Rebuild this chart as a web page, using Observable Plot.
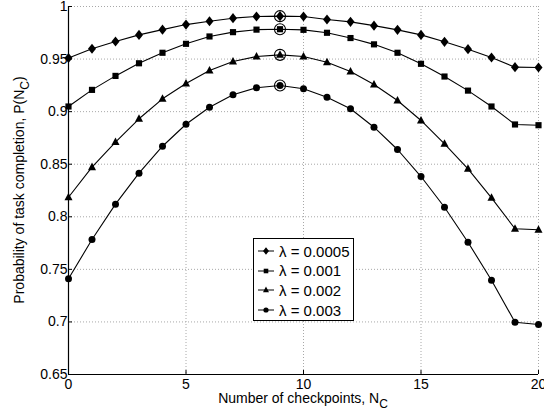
<!DOCTYPE html>
<html><head><meta charset="utf-8">
<script src="https://cdn.jsdelivr.net/npm/d3@7"></script>
<script src="https://cdn.jsdelivr.net/npm/@observablehq/plot@0.6"></script>
<style>
body{margin:0;background:#fff;}
#wrap{position:relative;width:544px;height:417px;font-family:"Liberation Sans",Arial,sans-serif;}
#legend{position:absolute;left:253px;top:238px;width:99px;height:81px;border:1px solid #000;background:#fff;}
.row{position:absolute;left:0;height:20px;display:flex;align-items:center;font-size:15px;color:#000;white-space:nowrap;}
.row svg{margin-left:3px;margin-right:4px;}
</style></head><body><div id="wrap"></div>
<script>
// Data
const checkpoints = [0,1,2,3,4,5,6,7,8,9,10,11,12,13,14,15,16,17,18,19,20];
const lambdaLabels = ["λ = 0.0005","λ = 0.001","λ = 0.002","λ = 0.003"];
const p0005 = [0.951,0.9598,0.9667,0.973,0.978,0.9828,0.986,0.9889,0.9905,0.9908,0.9905,0.9876,0.9854,0.9818,0.9778,0.973,0.9664,0.9594,0.9515,0.9423,0.942];
const p001  = [0.9049,0.9207,0.934,0.946,0.956,0.9645,0.9715,0.9756,0.978,0.9784,0.9778,0.975,0.970,0.964,0.956,0.9455,0.9334,0.920,0.9049,0.8878,0.8871];
const p002  = [0.8186,0.8472,0.871,0.8932,0.9122,0.9267,0.9391,0.9477,0.9524,0.954,0.9524,0.947,0.9382,0.9258,0.9106,0.8916,0.8694,0.8456,0.818,0.7886,0.7876];
const p003  = [0.741,0.7784,0.812,0.8415,0.8671,0.888,0.9042,0.916,0.9227,0.9249,0.9217,0.9137,0.9027,0.8852,0.864,0.8383,0.8091,0.7758,0.7397,0.6997,0.6976];
const optimalN = 9;
const xTicks = [0,5,10,15,20];
const yTicks = [0.65,0.7,0.75,0.8,0.85,0.9,0.95,1];

const seriesValues = [p0005,p001,p002,p003];

// custom marker shapes (scaled by radius)
function mk(fn){return {draw(ctx,size){fn(ctx,Math.sqrt(size/Math.PI));}};}
const diamond = mk((c,r)=>{const w=r*1.15,h=r*1.45;c.moveTo(0,-h);c.lineTo(w,0);c.lineTo(0,h);c.lineTo(-w,0);c.closePath();});
const square = mk((c,r)=>{const s=r*0.88;c.rect(-s,-s,2*s,2*s);});
const triangle = mk((c,r)=>{const w=r*1.15;c.moveTo(0,-r*1.3);c.lineTo(w,r*0.85);c.lineTo(-w,r*0.85);c.closePath();});
const circle = mk((c,r)=>{c.moveTo(r,0);c.arc(0,0,r,0,2*Math.PI);});
const symbols = [diamond,square,triangle,circle];

const W=544,H=417,ML=68,MR=6,MT=6,MB=43;

const marks = [
  Plot.gridX(xTicks,{stroke:"#a8a8a8",strokeOpacity:1,strokeDasharray:"1,2"}),
  Plot.gridY(yTicks,{stroke:"#a8a8a8",strokeOpacity:1,strokeDasharray:"1,2"}),
  Plot.ruleX([0],{stroke:"#000",strokeWidth:1.2}),
  Plot.ruleY([0.65],{stroke:"#000",strokeWidth:1.2}),
  Plot.axisX({ticks:xTicks,tickSize:-4,tickPadding:9,tickFormat:d=>String(d),fontSize:14,label:null}),
  Plot.axisY({ticks:yTicks,tickSize:-4,tickPadding:5,tickFormat:d=>String(d),fontSize:14,label:null})
];
seriesValues.forEach((vals,i)=>{
  const data = checkpoints.map((n,j)=>({n, p: vals[j]}));
  marks.push(Plot.line(data,{x:"n",y:"p",stroke:"#000",strokeWidth:1.1}));
  marks.push(Plot.dot(data,{x:"n",y:"p",symbol:symbols[i],r:3.5,fill:"#000",stroke:"none"}));
  marks.push(Plot.dot(data.filter(d=>d.n===optimalN),{x:"n",y:"p",r:5.5,fill:"none",stroke:"#000",strokeWidth:1.1,symbol:"circle"}));
});

const plot = Plot.plot({
  width:W,height:H,marginLeft:ML,marginRight:MR,marginTop:MT,marginBottom:MB,
  style:{fontFamily:'"Liberation Sans",Arial,sans-serif',fontSize:"14px",color:"#000",background:"#fff"},
  x:{domain:[0,20]},
  y:{domain:[0.65,1]},
  marks
});
const wrap=document.getElementById("wrap");
wrap.appendChild(plot);

const svg=d3.select(plot);
const xs=plot.scale("x"), ys=plot.scale("y");
// x axis title
const xt=svg.append("text").attr("x",(xs.apply(0)+xs.apply(20))/2).attr("y",403)
  .attr("text-anchor","middle").attr("font-size",14).attr("fill","#000");
xt.append("tspan").text("Number of checkpoints, N");
xt.append("tspan").attr("dy",5).attr("font-size",12).text("C");
// y axis title
const yt=svg.append("text").attr("transform",`translate(24,${(ys.apply(0.65)+ys.apply(1))/2}) rotate(-90)`)
  .attr("text-anchor","middle").attr("font-size",14).attr("fill","#000");
yt.append("tspan").text("Probability of task completion, P(N");
yt.append("tspan").attr("dy",5).attr("font-size",12).text("C");
yt.append("tspan").attr("dy",-5).text(")");

// legend
const legend=document.createElement("div");legend.id="legend";
const pathFor=(sym)=>{const p=d3.path();sym.draw(p,Math.PI*2.6*2.6);return p.toString();};
lambdaLabels.forEach((lab,i)=>{
  const row=document.createElement("div");row.className="row";row.style.top=(2+i*19.7)+"px";
  row.innerHTML=`<svg width="18" height="12" viewBox="-9 -6 18 12"><line x1="-8" x2="8" y1="0" y2="0" stroke="#000" stroke-width="1"/><path d="${pathFor(symbols[i])}" fill="#000"/></svg><span>${lab}</span>`;
  legend.appendChild(row);
});
wrap.appendChild(legend);
</script></body></html>
